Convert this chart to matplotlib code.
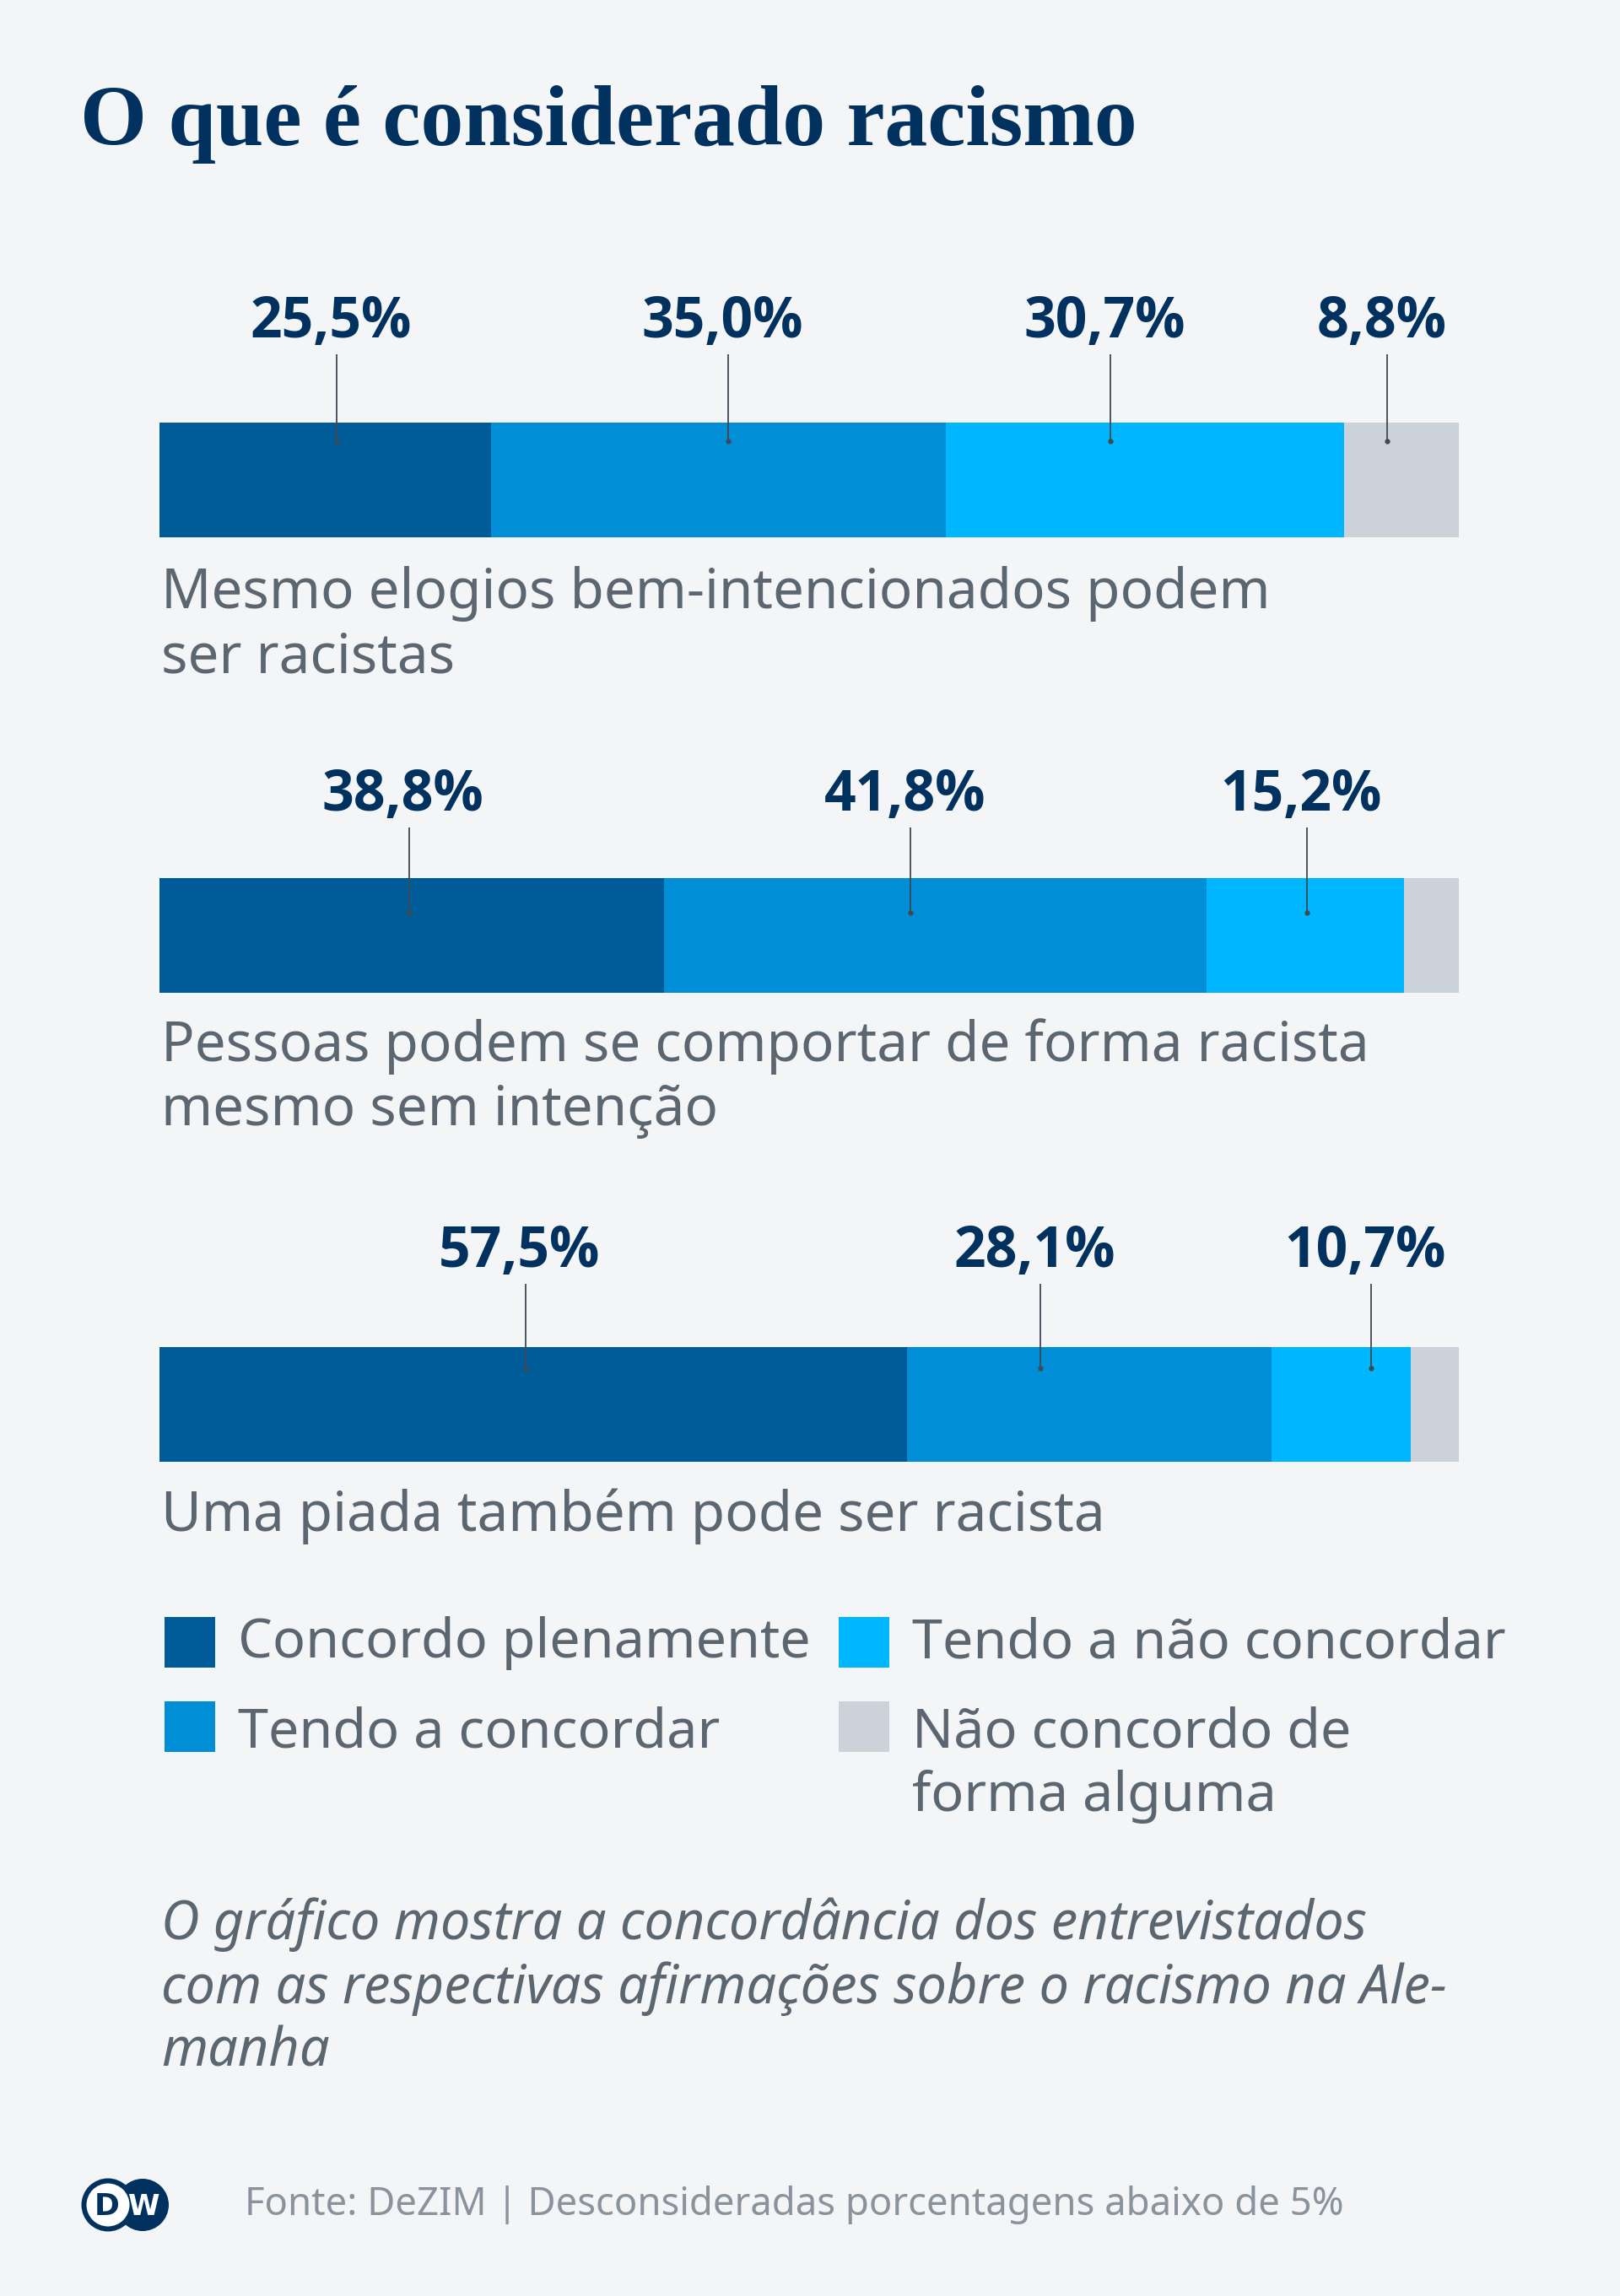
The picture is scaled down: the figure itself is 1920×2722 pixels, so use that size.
import matplotlib
matplotlib.use("Agg")
import matplotlib.pyplot as plt
from matplotlib.patches import Rectangle, Circle
from matplotlib import font_manager
import numpy as np

# data
statements = [
    ["Mesmo elogios bem-intencionados podem", "ser racistas"],
    ["Pessoas podem se comportar de forma racista", "mesmo sem intenção"],
    ["Uma piada também pode ser racista"],
]
concordo_plenamente = [25.5, 38.8, 57.5]
tendo_a_concordar = [35.0, 41.8, 28.1]
tendo_a_nao_concordar = [30.7, 15.2, 10.7]
nao_concordo = [8.8, 4.2, 3.7]
series_names = ["Concordo plenamente", "Tendo a concordar",
                "Tendo a não concordar", "Não concordo de\nforma alguma"]
# labels below 5% are not shown in the original
min_label = 5.0

# styling
BG = "#f3f5f7"
NAVY = "#00315f"
GRAY_TXT = "#5c6670"
FOOT_TXT = "#8a939b"
LINE_C = "#3f4953"
colors = ["#005c99", "#008fd6", "#00b6ff", "#cbd2d9"]

W, H = 1920, 2722
DPI = 100
def pt(px):
    return px * 72.0 / DPI

# pick a sans family that really has a bold face installed
fonts = font_manager.fontManager.ttflist
bold_family = 'DejaVu Sans'
for fam in ['Noto Sans', 'Open Sans', 'Lato', 'Roboto']:
    if any(f.name == fam and f.weight in (600, 700, 'bold', 'semibold')
           for f in fonts):
        bold_family = fam
        break

plt.rcParams['font.family'] = ['Noto Sans', 'DejaVu Sans']

fig = plt.figure(figsize=(W / DPI, H / DPI), dpi=DPI, facecolor=BG)
bg = fig.add_axes([0, 0, 1, 1])
bg.set_xlim(0, W)
bg.set_ylim(H, 0)
bg.axis('off')
bg.set_facecolor(BG)

# title
bg.text(95, 172, "O que é considerado racismo", fontsize=pt(101.5),
        family=['Liberation Serif', 'DejaVu Serif'], weight='bold',
        color=NAVY, va='baseline', ha='left')

# row layout in pixels: bar top, label baseline, first statement baseline
rows = [
    dict(top=501, lab=400, txt=721, dot=22),
    dict(top=1041, lab=961, txt=1258, dot=41),
    dict(top=1597, lab=1502, txt=1815, dot=25),
]
bar_x, bar_w, bar_h = 189, 1540, 136
# hand nudges (px) for the percentage labels, as in the original layout
nudges = [[14, 12, -41, -17], [-3, -29, 2, 0], [-9, -58, 35, 0]]

values = np.array([concordo_plenamente, tendo_a_concordar,
                   tendo_a_nao_concordar, nao_concordo]).T

for i, row in enumerate(rows):
    ax = fig.add_axes([bar_x / W, 1 - (row['top'] + bar_h) / H,
                       bar_w / W, bar_h / H])
    ax.set_xlim(0, 100)
    ax.set_ylim(0, 1)
    ax.axis('off')
    left = np.concatenate([[0], np.cumsum(values[i])[:-1]])
    ax.barh(0.5, values[i], left=left, height=1.0, color=colors,
            edgecolor='none')
    px_per_unit = bar_w / 100.0
    for j, v in enumerate(values[i]):
        if v < min_label:
            continue
        xc = left[j] + v / 2 + nudges[i][j] / px_per_unit
        y_lab = 1 + (row['top'] - row['lab']) / bar_h
        y0 = 1 + (row['top'] - row['lab'] - 20) / bar_h
        y1 = 1 - row['dot'] / bar_h
        ax.plot([xc, xc], [y0, y1], color=LINE_C, lw=1.3, clip_on=False,
                solid_capstyle='butt')
        ax.plot([xc], [y1], marker='o', ms=3.5, color=LINE_C,
                clip_on=False)
        # text sits a few px left of its leader line
        ax.text(xc - 7 / px_per_unit, y_lab, ("%.1f%%" % v).replace('.', ','),
                fontsize=pt(66), family=[bold_family, 'DejaVu Sans'],
                weight='bold', color=NAVY,
                ha='center', va='baseline', clip_on=False)
    for k, line in enumerate(statements[i]):
        bg.text(bar_x + 2, row['txt'] + 76 * k, line, fontsize=pt(65.5),
                color=GRAY_TXT, ha='left', va='baseline')

# legend
leg_pos = [(195, 1917, 1965), (195, 2017, 2071),
           (994, 1917, 1965), (994, 2017, 2071)]
for c, name, (lx, ly, lb) in zip(colors, series_names, leg_pos):
    bg.add_patch(Rectangle((lx, ly), 60, 60, color=c, lw=0))
    for k, line in enumerate(name.split("\n")):
        bg.text(lx + 87, lb + 76 * k, line, fontsize=pt(64.7),
                color=GRAY_TXT, ha='left', va='baseline')

# note
note = ["O gráfico mostra a concordância dos entrevistados",
        "com as respectivas afirmações sobre o racismo na Ale-",
        "manha"]
for k, line in enumerate(note):
    bg.text(191, 2299 + 75.5 * k, line, fontsize=pt(63), style='italic',
            color=GRAY_TXT, ha='left', va='baseline')

# footer with DW logo
bg.add_patch(Circle((169, 2614), 31, color=NAVY, lw=0))
bg.add_patch(Circle((128, 2614), 28.5, facecolor='white', edgecolor=NAVY,
                    lw=pt(6)))
bg.text(127, 2616, "D", fontsize=pt(36), weight='bold', color=NAVY,
        family=['DejaVu Sans'], ha='center', va='center')
bg.text(171, 2616, "W", fontsize=pt(34), weight='bold', color='white',
        family=['DejaVu Sans'], ha='center', va='center')
bg.text(290, 2626, "Fonte: DeZIM | Desconsideradas porcentagens abaixo de 5%",
        fontsize=pt(45.5), color=FOOT_TXT, ha='left', va='baseline')

fig.savefig("out.png", dpi=DPI, facecolor=BG)
